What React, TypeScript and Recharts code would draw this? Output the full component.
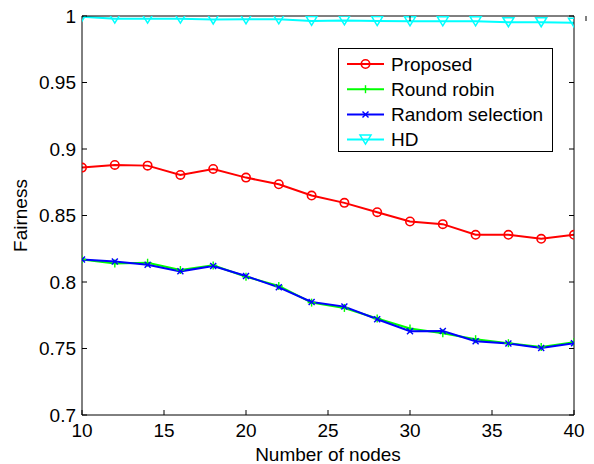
import React from "react";
import { LineChart, Line, XAxis, YAxis, Legend } from "recharts";

// number of nodes
const nodes = [10, 12, 14, 16, 18, 20, 22, 24, 26, 28, 30, 32, 34, 36, 38, 40];

const proposed = [0.886, 0.888, 0.8875, 0.8805, 0.885, 0.8785, 0.8735, 0.865, 0.8595, 0.8525, 0.8455, 0.8435, 0.8355, 0.8355, 0.8325, 0.8355];
const roundRobin = [0.817, 0.814, 0.8145, 0.809, 0.8125, 0.804, 0.797, 0.7845, 0.7805, 0.7725, 0.765, 0.7615, 0.757, 0.754, 0.7512, 0.7548];
const randomSel = [0.817, 0.8155, 0.813, 0.808, 0.812, 0.8045, 0.796, 0.785, 0.7815, 0.772, 0.763, 0.7632, 0.7555, 0.7538, 0.7503, 0.754];
const hd = [0.9995, 0.998, 0.998, 0.998, 0.9974, 0.9975, 0.9975, 0.9963, 0.9967, 0.9962, 0.996, 0.996, 0.996, 0.9953, 0.9953, 0.995];

const xTicks = [10, 15, 20, 25, 30, 35, 40];
const yTicks = [0.7, 0.75, 0.8, 0.85, 0.9, 0.95, 1];

const data = nodes.map((n, i) => ({
  n,
  proposed: proposed[i],
  roundRobin: roundRobin[i],
  randomSel: randomSel[i],
  hd: hd[i],
}));

const series = [
  { key: "proposed", name: "Proposed", color: "#ff0000", marker: "circle" },
  { key: "roundRobin", name: "Round robin", color: "#00ff00", marker: "plus" },
  { key: "randomSel", name: "Random selection", color: "#0000ff", marker: "cross" },
  { key: "hd", name: "HD", color: "#00ffff", marker: "triangle" },
];

const FONT = "'Liberation Sans', Arial, Helvetica, sans-serif";
const FS = 19;
const GAP = 6;
const TICK = 5;

function Marker({ kind, cx, cy, color }: any) {
  if (kind === "circle")
    return <circle cx={cx} cy={cy} r={4.2} fill="none" stroke={color} strokeWidth={1.6} />;
  if (kind === "plus")
    return (
      <g stroke={color} strokeWidth={1.4}>
        <line x1={cx - 4} x2={cx + 4} y1={cy} y2={cy} />
        <line x1={cx} x2={cx} y1={cy - 4} y2={cy + 4} />
      </g>
    );
  if (kind === "cross")
    return (
      <g stroke={color} strokeWidth={1.4}>
        <line x1={cx - 3} x2={cx + 3} y1={cy - 3} y2={cy + 3} />
        <line x1={cx - 3} x2={cx + 3} y1={cy + 3} y2={cy - 3} />
      </g>
    );
  return (
    <polygon
      points={`${cx - 5.5},${cy - 4.5} ${cx + 5.5},${cy - 4.5} ${cx},${cy + 4.5}`}
      fill="none"
      stroke={color}
      strokeWidth={1.5}
    />
  );
}

const dotFor = (kind: string, color: string) => (p: any) =>
  (
    <g key={`${kind}-${p.index}`}>
      <Marker kind={kind} cx={p.cx} cy={p.cy} color={color} />
    </g>
  );

function LeftTick({ x, y, payload }: any) {
  const ax = x + GAP;
  return (
    <g>
      <line x1={ax} x2={ax + TICK} y1={y} y2={y} stroke="#000" />
      <text x={x} y={y} dy={6.5} textAnchor="end" fontSize={FS} fill="#000" fontFamily={FONT}>
        {payload.value}
      </text>
    </g>
  );
}

function RightTick({ x, y }: any) {
  const ax = x - GAP;
  return <line x1={ax} x2={ax - TICK} y1={y} y2={y} stroke="#000" />;
}

function BottomTick({ x, y, payload }: any) {
  const ay = y - GAP;
  return (
    <g>
      <line x1={x} x2={x} y1={ay} y2={ay - TICK} stroke="#000" />
      <text x={x} y={y} dy={16} textAnchor="middle" fontSize={FS} fill="#000" fontFamily={FONT}>
        {payload.value}
      </text>
    </g>
  );
}

function TopTick({ x, y }: any) {
  const ay = y + GAP;
  return <line x1={x} x2={x} y1={ay} y2={ay + TICK} stroke="#000" />;
}

function BoxLegend() {
  const w = 215;
  const h = 104;
  return (
    <svg width={w} height={h} style={{ display: "block" }}>
      <rect x={0.5} y={0.5} width={w - 1} height={h - 1} fill="#fff" stroke="#000" />
      {series.map((s, i) => {
        const cy = 16 + i * 25.2;
        return (
          <g key={s.key}>
            <line x1={9} x2={46} y1={cy} y2={cy} stroke={s.color} strokeWidth={2} />
            <Marker kind={s.marker} cx={27.5} cy={cy} color={s.color} />
            <text x={53} y={cy} dy={6.8} fontSize={FS} fill="#000" fontFamily={FONT}>
              {s.name}
            </text>
          </g>
        );
      })}
    </svg>
  );
}

export default function App() {
  return (
    <div style={{ position: "absolute", left: 0, top: 0, width: 594, height: 464, background: "#fff" }}>
      <LineChart
        width={594}
        height={464}
        data={data}
        margin={{ top: 15, right: 19, bottom: 0, left: 0 }}
        style={{ fontFamily: FONT }}
      >
        <XAxis
          dataKey="n"
          type="number"
          domain={[10, 40]}
          ticks={xTicks}
          allowDataOverflow
          height={49}
          tickLine={false}
          tickSize={0}
          tickMargin={GAP}
          tick={<BottomTick />}
          axisLine={{ stroke: "#000" }}
          label={{ value: "Number of nodes", position: "insideBottom", offset: 3, fontSize: FS, fill: "#000" }}
        />
        <XAxis
          xAxisId="top"
          orientation="top"
          type="number"
          domain={[10, 40]}
          ticks={xTicks}
          allowDataOverflow
          height={1}
          tickLine={false}
          tickSize={0}
          tickMargin={GAP}
          tick={<TopTick />}
          axisLine={{ stroke: "#000" }}
        />
        <YAxis
          type="number"
          domain={[0.7, 1]}
          ticks={yTicks}
          allowDataOverflow
          width={82}
          tickLine={false}
          tickSize={0}
          tickMargin={GAP}
          tick={<LeftTick />}
          axisLine={{ stroke: "#000" }}
          label={{
            value: "Fairness",
            angle: -90,
            position: "insideLeft",
            offset: 20,
            fontSize: FS,
            fill: "#000",
            style: { textAnchor: "middle" },
          }}
        />
        <YAxis
          yAxisId="right"
          orientation="right"
          type="number"
          domain={[0.7, 1]}
          ticks={yTicks}
          allowDataOverflow
          width={1}
          tickLine={false}
          tickSize={0}
          tickMargin={GAP}
          tick={<RightTick />}
          axisLine={{ stroke: "#000" }}
        />
        {series.map((s) => (
          <Line
            key={s.key}
            dataKey={s.key}
            name={s.name}
            type="linear"
            stroke={s.color}
            strokeWidth={2}
            dot={dotFor(s.marker, s.color)}
            activeDot={false}
            isAnimationActive={false}
          />
        ))}
        <Legend
          layout="vertical"
          align="center"
          verticalAlign="middle"
          content={<BoxLegend />}
          wrapperStyle={{ left: 338, top: 48, width: 215, height: 104 }}
        />
      </LineChart>
    </div>
  );
}
